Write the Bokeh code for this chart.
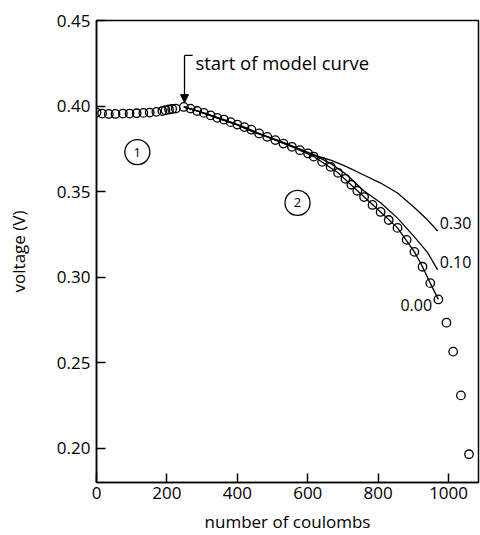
from bokeh.plotting import figure
from bokeh.embed import file_html
from bokeh.resources import INLINE
from bokeh.models import Range1d, FixedTicker, NumeralTickFormatter, Arrow, NormalHead
from bokeh.core.properties import value

FONT = "Open Sans"

# measured data (circles): number of coulombs vs voltage (V)
coulombs = [0, 16, 35, 54, 75, 94, 114, 133, 151, 170, 187, 196, 206, 215, 225,
            248, 267, 286, 305, 324, 343, 362, 381, 400, 420, 440, 462, 485, 508,
            531, 555, 578, 601, 617, 641, 665, 686, 707, 724, 741, 760, 784, 807,
            830, 855, 881, 903, 926, 948, 971, 994, 1013, 1035, 1058]
voltage = [0.3962, 0.3956, 0.3954, 0.3954, 0.3956, 0.3956, 0.3958, 0.3960, 0.3962,
           0.3966, 0.3971, 0.3976, 0.3980, 0.3983, 0.3985,
           0.3995, 0.3985, 0.3971, 0.3960, 0.3946, 0.3931, 0.3921, 0.3906, 0.3892,
           0.3877, 0.3862, 0.3840, 0.3820, 0.3801, 0.3781, 0.3762, 0.3742, 0.3723,
           0.3705, 0.3674, 0.3645, 0.3610, 0.3575, 0.3540, 0.3505, 0.3468, 0.3422,
           0.3381, 0.3334, 0.3288, 0.3218, 0.3148, 0.3061, 0.2965, 0.2870, 0.2734,
           0.2565, 0.2309, 0.1965]

# model curves (parameter 0.30, 0.10, 0.00)
model_030_x = [248, 290, 340, 400, 446, 514, 571, 628, 665, 693, 713, 759, 807, 855, 901, 940, 969]
model_030_y = [0.3995, 0.3969, 0.3932, 0.3890, 0.3848, 0.3801, 0.3754, 0.3707, 0.3684,
               0.3661, 0.3643, 0.3597, 0.3550, 0.3492, 0.3410, 0.3335, 0.3270]
model_010_x = [248, 290, 340, 400, 446, 514, 571, 628, 665, 710, 759, 807, 855, 901, 940, 969]
model_010_y = [0.3995, 0.3969, 0.3932, 0.3890, 0.3849, 0.3800, 0.3752, 0.3703, 0.3665,
               0.3600, 0.3505, 0.3435, 0.3345, 0.3240, 0.3145, 0.3043]
model_000_x = [248, 305, 362, 420, 485, 555, 617, 686, 741, 807, 855, 903, 926, 948, 971]
model_000_y = [0.3995, 0.3960, 0.3921, 0.3877, 0.3820, 0.3762, 0.3705, 0.3610, 0.3505,
               0.3381, 0.3288, 0.3148, 0.3061, 0.2965, 0.2870]

curve_labels = ["0.30", "0.10"]
curve_label_x = [975, 975]
curve_label_y = [0.3317, 0.3090]
zero_label = ["0.00"]
zero_label_x = [953]
zero_label_y = [0.2839]

region_labels = ["1", "2"]
region_x = [116, 571]
region_y = [0.3731, 0.3434]

x_ticks = [0, 200, 400, 600, 800, 1000]
y_ticks = [0.20, 0.25, 0.30, 0.35, 0.40, 0.45]

p = figure(width=480, height=535, output_backend="svg", toolbar_location=None,
           x_range=Range1d(0, 1085), y_range=Range1d(0.18, 0.45),
           min_border_left=96, min_border_right=2, min_border_top=20, min_border_bottom=51)
p.background_fill_color = "white"
p.border_fill_color = "white"
p.xgrid.visible = False
p.ygrid.visible = False
p.outline_line_color = "black"
p.outline_line_width = 1.5

for ax in (p.xaxis[0], p.yaxis[0]):
    ax.axis_line_color = "black"
    ax.axis_line_width = 1.5
    ax.major_tick_in = 9
    ax.major_tick_out = 0
    ax.major_tick_line_width = 1.5
    ax.minor_tick_line_color = None
    ax.major_label_text_font = FONT
    ax.major_label_text_font_size = "17px"
    ax.major_label_text_color = "black"
    ax.axis_label_text_font = FONT
    ax.axis_label_text_font_size = "17px"
    ax.axis_label_text_font_style = "normal"
    ax.axis_label_text_color = "black"

p.xaxis.ticker = FixedTicker(ticks=x_ticks)
p.yaxis.ticker = FixedTicker(ticks=y_ticks)
p.yaxis.formatter = NumeralTickFormatter(format="0.00")
p.xaxis.axis_label = "number of coulombs"
p.yaxis.axis_label = "voltage (V)"
p.xaxis.major_label_standoff = 4
p.yaxis.major_label_standoff = 6
p.xaxis.axis_label_standoff = 8
p.yaxis.axis_label_standoff = 24

# model curves
p.line(model_030_x, model_030_y, line_color="black", line_width=1.3)
p.line(model_010_x, model_010_y, line_color="black", line_width=1.3)
p.line(model_000_x, model_000_y, line_color="black", line_width=1.3)

# data circles
p.scatter(coulombs, voltage, marker="circle", size=8.5, fill_alpha=0,
          line_color="black", line_width=1.3)

# curve labels
p.text(curve_label_x, curve_label_y, text=curve_labels, text_font=value(FONT),
       text_font_size="16px", text_align="left", text_baseline="middle", text_color="black")
p.text(zero_label_x, zero_label_y, text=zero_label, text_font=value(FONT),
       text_font_size="16px", text_align="right", text_baseline="middle", text_color="black")

# circled region numbers
p.scatter(region_x, region_y, marker="circle", size=25, fill_alpha=0,
          line_color="black", line_width=1.3)
p.text(region_x, region_y, text=region_labels, text_font=value(FONT),
       text_font_size="13px", text_align="center", text_baseline="middle", text_color="black")

# "start of model curve" annotation
ARROW_X = 250
STUB_X = 273
ARROW_TOP = 0.4296
ARROW_TIP = 0.4020
p.line([STUB_X, ARROW_X], [ARROW_TOP, ARROW_TOP], line_color="black", line_width=1.3)
p.add_layout(Arrow(x_start=ARROW_X, y_start=ARROW_TOP, x_end=ARROW_X, y_end=ARROW_TIP,
                   line_color="black", line_width=1.3,
                   end=NormalHead(size=8, fill_color="black", line_color="black")))
p.text([281], [0.4255], text=["start of model curve"], text_font=value(FONT),
       text_font_size="18.5px", text_align="left", text_baseline="middle", text_color="black")

open("out.html", "w").write(file_html(p, INLINE))
